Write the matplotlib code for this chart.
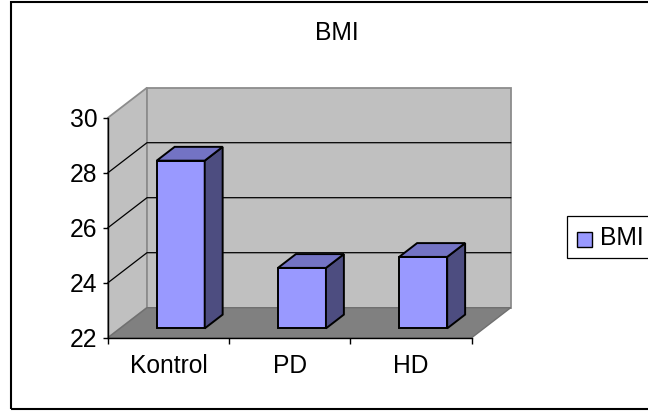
import matplotlib
matplotlib.use("Agg")
import matplotlib.pyplot as plt
from matplotlib.patches import Polygon, Rectangle

# chart data
categories = ["Kontrol", "PD", "HD"]
bmi = [28.1, 24.2, 24.6]
y_ticks = [22, 24, 26, 28, 30]
series_name = "BMI"

plt.rcParams['font.family'] = ['Liberation Sans', 'DejaVu Sans']
FS = 17.7

W, H = 648, 411
fig = plt.figure(figsize=(W / 100, H / 100), dpi=100)


def fx(px):
    return px / W


def fy(py):
    return 1 - py / H


# front plane of the plot area (pixels)
left, right = 108, 471.7
top, bottom = 117.7, 337.7
ax = fig.add_axes([fx(left), fy(bottom), (right - left) / W, (bottom - top) / H])
n = len(categories)
ymin, ymax = y_ticks[0], y_ticks[-1]
ax.set_xlim(0, n)
ax.set_ylim(ymin, ymax)
ax.patch.set_alpha(0)

# oblique depth offset of the back wall, in data units
DX = 39 / ((right - left) / n)
DY = 30 / ((bottom - top) / (ymax - ymin))


def proj(x, y, d):
    return (x + d * DX, y + d * DY)


def face(pts, color, edge, lw, z):
    ax.add_patch(Polygon(pts, closed=True, facecolor=color, edgecolor=edge,
                         linewidth=lw, zorder=z, clip_on=False,
                         joinstyle='miter'))


wall = '#C0C0C0'
floor = '#808080'
# side wall, back wall, floor
face([proj(0, ymin, 0), proj(0, ymax, 0), proj(0, ymax, 1), proj(0, ymin, 1)],
     wall, '#8C8C8C', 1.3, 1)
face([proj(0, ymin, 1), proj(n, ymin, 1), proj(n, ymax, 1), proj(0, ymax, 1)],
     wall, '#8C8C8C', 1.3, 1)
face([proj(0, ymin, 0), proj(n, ymin, 0), proj(n, ymin, 1), proj(0, ymin, 1)],
     floor, '#707070', 1.0, 1)

# gridlines across the side wall and back wall
for t in y_ticks[1:-1]:
    pts = [proj(0, t, 0), proj(0, t, 1), proj(n, t, 1)]
    ax.plot([p[0] for p in pts], [p[1] for p in pts], color='black',
            lw=0.9, zorder=2, clip_on=False)

# 3D bars
d0, d1 = 0.31, 0.77
bw = 0.396
for i, v in enumerate(bmi):
    x0 = i + 0.5 - bw / 2
    x1 = i + 0.5 + bw / 2
    face([proj(x0, ymin, d0), proj(x1, ymin, d0), proj(x1, v, d0), proj(x0, v, d0)],
         '#9999FF', 'black', 1.4, 5)
    face([proj(x1, ymin, d0), proj(x1, ymin, d1), proj(x1, v, d1), proj(x1, v, d0)],
         '#4D4D80', 'black', 1.4, 5)
    face([proj(x0, v, d0), proj(x1, v, d0), proj(x1, v, d1), proj(x0, v, d1)],
         '#7373C4', 'black', 1.4, 5)

# axes: value axis on the left, category axis along the front of the floor
for s in ['top', 'right']:
    ax.spines[s].set_visible(False)
ax.spines['left'].set_linewidth(1.0)
ax.spines['bottom'].set_linewidth(1.0)
ax.spines['left'].set_zorder(3)
ax.spines['bottom'].set_zorder(3)
ax.set_yticks(y_ticks)
ax.set_yticklabels([str(t) for t in y_ticks], fontsize=FS)
ax.tick_params(axis='y', length=3.6, width=1.0, pad=4)
ax.set_xticks(range(n + 1))
ax.set_xticklabels([])
ax.tick_params(axis='x', which='major', length=4.3, width=1.0)
ax.set_xticks([i + 0.5 for i in range(n)], minor=True)
ax.set_xticklabels(categories, minor=True, fontsize=FS)
ax.tick_params(axis='x', which='minor', length=0, pad=12)

# title
fig.text(fx(336.5), fy(40), series_name, ha='center', va='baseline', fontsize=FS)

# legend
fig.add_artist(Rectangle((fx(567), fy(257.7)), fx(700 - 567), (257.7 - 216) / H,
                         transform=fig.transFigure, facecolor='white',
                         edgecolor='black', linewidth=0.9))
fig.add_artist(Rectangle((fx(577), fy(247)), fx(15), 15 / H,
                         transform=fig.transFigure, facecolor='#9999FF',
                         edgecolor='black', linewidth=1.0))
fig.text(fx(600), fy(245), series_name, ha='left', va='baseline', fontsize=FS)

# chart border
fig.add_artist(Rectangle((fx(11), fy(409)), fx(700 - 11), (409 - 2) / H,
                         transform=fig.transFigure, facecolor='none',
                         edgecolor='black', linewidth=1.5))

fig.savefig('out.png', dpi=100)
